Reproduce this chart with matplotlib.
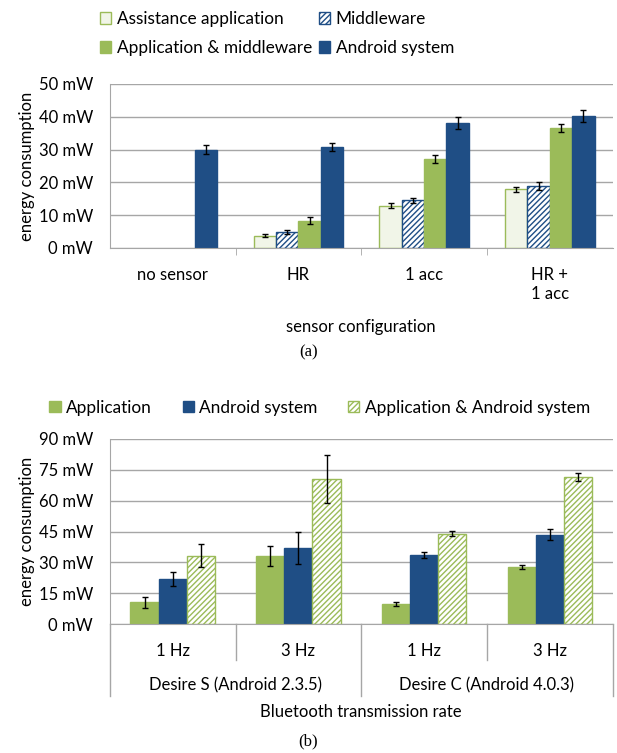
import matplotlib.pyplot as plt
import numpy as np

# (a) sensor configuration data
configs = ["no sensor", "HR", "1 acc", "HR +\n1 acc"]
assist = [np.nan, 3.7, 12.9, 17.9]
assist_err = [np.nan, 0.5, 0.8, 0.7]
middleware = [np.nan, 4.9, 14.5, 19.0]
middleware_err = [np.nan, 0.7, 0.8, 1.2]
app_mid = [np.nan, 8.3, 27.2, 36.6]
app_mid_err = [np.nan, 1.0, 1.2, 1.3]
android_a = [30.0, 30.8, 38.0, 40.2]
android_a_err = [1.5, 1.3, 1.8, 1.8]

# (b) bluetooth transmission rate data
rates = ["1 Hz", "3 Hz", "1 Hz", "3 Hz"]
devices = ["Desire S (Android 2.3.5)", "Desire C (Android 4.0.3)"]
app_b = [10.5, 33.0, 9.8, 27.8]
app_b_err = [2.7, 5.0, 1.0, 1.0]
android_b = [22.0, 37.0, 33.5, 43.5]
android_b_err = [3.3, 7.6, 1.5, 2.5]
both_b = [33.3, 70.5, 44.0, 71.5]
both_b_err = [5.8, 11.5, 1.2, 2.0]

GREEN = '#9BBB59'
LIGHT = '#F1F5E8'
BLUE = '#1F4E85'
GRID = '#A6A6A6'
FS = 12
LFS = 12.4

plt.rcParams['font.family'] = ['Lato', 'DejaVu Sans']
plt.rcParams['font.size'] = FS
plt.rcParams['hatch.linewidth'] = 1.0

fig = plt.figure(figsize=(6.17, 7.53), dpi=100)
ax1 = fig.add_axes([0.178, 0.6707, 0.815, 0.2178])
ax2 = fig.add_axes([0.178, 0.1713, 0.815, 0.2457])

err_kw = dict(ecolor='black', capsize=2.5, elinewidth=1, capthick=1)


def style(ax, ymax, step):
    ax.set_ylim(0, ymax)
    ticks = np.arange(0, ymax + 1, step)
    ax.set_yticks(ticks)
    ax.set_yticklabels([f"{v:d} mW" for v in ticks])
    ax.yaxis.grid(True, color=GRID, lw=1)
    ax.set_axisbelow(True)
    for s in ['right', 'top']:
        ax.spines[s].set_visible(False)
    ax.spines['bottom'].set_color(GRID)
    ax.spines['left'].set_color(GRID)
    ax.tick_params(axis='y', length=0, pad=12, labelsize=FS)
    ax.set_ylabel("energy consumption", fontsize=FS, labelpad=3)


# ---- chart (a)
x = np.arange(len(configs))
w = 0.178
b1 = ax1.bar(x - 1.5 * w, assist, w, yerr=assist_err, color=LIGHT, edgecolor=GREEN,
             lw=1, error_kw=err_kw, label="Assistance application")
b2 = ax1.bar(x - 0.5 * w, middleware, w, yerr=middleware_err, color='white', edgecolor=BLUE,
             hatch='//////', lw=1, error_kw=err_kw, label="Middleware")
b3 = ax1.bar(x + 0.5 * w, app_mid, w, yerr=app_mid_err, color=GREEN, edgecolor=GREEN,
             lw=1, error_kw=err_kw, label="Application & middleware")
b4 = ax1.bar(x + 1.5 * w, android_a, w, yerr=android_a_err, color=BLUE, edgecolor=BLUE,
             lw=1, error_kw=err_kw, label="Android system")
style(ax1, 50, 10)
ax1.set_xlim(-0.5, len(configs) - 0.5)
ax1.set_xticks(x)
ax1.set_xticklabels(configs, fontsize=FS)
ax1.tick_params(axis='x', which='major', length=0, pad=14)
ax1.set_xticks(np.arange(0.5, len(configs) - 1), minor=True)
ax1.tick_params(axis='x', which='minor', length=5, color=GRID, direction='out')
ax1.set_xlabel("sensor configuration", fontsize=FS, labelpad=12)
fig.text(0.5, 0.532, "(a)", ha='center', va='center', fontsize=12, family='Liberation Serif')

# row-wise order for a 2-column legend
fig.legend(handles=[b1, b3, b2, b4], ncol=2, loc='upper left', bbox_to_anchor=(0.137, 1.006),
           frameon=False, fontsize=LFS, handlelength=0.65, handleheight=0.65,
           handletextpad=0.35, columnspacing=0.35, labelspacing=0.75)

# ---- chart (b)
x = np.arange(len(rates))
w = 0.224
c1 = ax2.bar(x - w, app_b, w, yerr=app_b_err, color=GREEN, edgecolor=GREEN,
             lw=1, error_kw=err_kw, label="Application")
c2 = ax2.bar(x, android_b, w, yerr=android_b_err, color=BLUE, edgecolor=BLUE,
             lw=1, error_kw=err_kw, label="Android system")
c3 = ax2.bar(x + w, both_b, w, yerr=both_b_err, color='white', edgecolor=GREEN,
             hatch='//////', lw=1, error_kw=err_kw, label="Application & Android system")
style(ax2, 90, 15)
ax2.set_xlim(-0.5, len(rates) - 0.5)
ax2.set_xticks(x)
ax2.set_xticklabels(rates, fontsize=FS)
ax2.tick_params(axis='x', length=0, pad=13.5)

tr = ax2.get_xaxis_transform()
edges = np.arange(-0.5, len(rates), 1.0)
for i, e in enumerate(edges):
    depth = -0.389 if i % 2 == 0 else -0.195
    ax2.plot([e, e], [0, depth], transform=tr, color=GRID, lw=1, clip_on=False)
for g, name in enumerate(devices):
    ax2.text(2 * g + 0.5, -0.33, name, transform=tr, ha='center', va='center', fontsize=FS)
ax2.text(0.5, -0.476, "Bluetooth transmission rate", transform=ax2.transAxes,
         ha='center', va='center', fontsize=FS)
fig.text(0.5, 0.015, "(b)", ha='center', va='center', fontsize=12, family='Liberation Serif')

fig.legend(handles=[c1, c2, c3], ncol=3, loc='upper center', bbox_to_anchor=(0.518, 0.49),
           frameon=False, fontsize=LFS, handlelength=0.65, handleheight=0.65,
           handletextpad=0.3, columnspacing=1.8)

fig.savefig('out.png', dpi=100)
